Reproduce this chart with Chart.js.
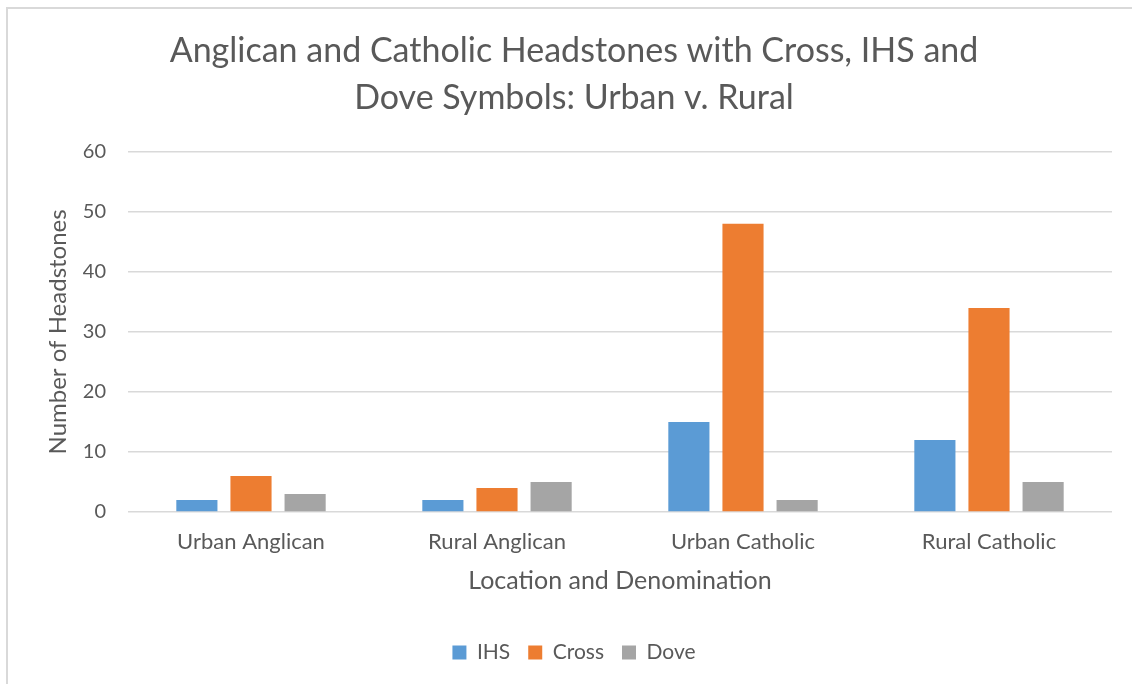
<!DOCTYPE html>
<html>
<head>
<meta charset="utf-8">
<script src="https://cdn.jsdelivr.net/npm/chart.js@4/dist/chart.umd.min.js"></script>
<style>
  html, body { margin: 0; padding: 0; background: #fff; }
  #wrap { position: relative; width: 1132px; height: 684px; }
  #frame { position: absolute; left: 6px; top: 7px; right: -4px; bottom: -4px;
           border-left: 2px solid #d9d9d9; border-top: 2px solid #d9d9d9; pointer-events: none; }
  canvas { position: absolute; left: 0; top: 0; }
</style>
</head>
<body>
<div id="wrap">
  <canvas id="headstones" width="1132" height="684"></canvas>
  <div id="frame"></div>
</div>
<script>
const categories = ["Urban Anglican", "Rural Anglican", "Urban Catholic", "Rural Catholic"];
const ihs = [2, 2, 15, 12];
const cross = [6, 4, 48, 34];
const dove = [3, 5, 2, 5];
const yTicks = [0, 10, 20, 30, 40, 50, 60];

const FONT = "Lato, Carlito, Calibri, sans-serif";
const TEXT = "#595959";

Chart.defaults.font.family = FONT;
Chart.defaults.color = TEXT;

new Chart(document.getElementById("headstones"), {
  type: "bar",
  data: {
    labels: categories,
    datasets: [
      { label: "IHS", data: ihs, backgroundColor: "#5b9bd5" },
      { label: "Cross", data: cross, backgroundColor: "#ed7d31" },
      { label: "Dove", data: dove, backgroundColor: "#a5a5a5" }
    ]
  },
  options: {
    responsive: false,
    animation: false,
    datasets: { bar: { categoryPercentage: 0.66, barPercentage: 0.76 } },
    layout: { padding: { left: 36, right: 20, top: 28, bottom: 11 } },
    plugins: {
      title: {
        display: true,
        text: ["Anglican and Catholic Headstones with Cross, IHS and", "Dove Symbols: Urban v. Rural"],
        font: { size: 34, weight: "normal", lineHeight: 1.38 },
        color: TEXT,
        padding: { top: 0, bottom: 30 }
      },
      legend: {
        position: "bottom",
        labels: { boxWidth: 14, boxHeight: 14, font: { size: 21 }, padding: 18, color: TEXT }
      },
      tooltip: { enabled: false }
    },
    scales: {
      x: {
        grid: { display: false },
        border: { display: false },
        ticks: { font: { size: 22 }, color: TEXT, padding: 9 },
        title: { display: true, text: "Location and Denomination", font: { size: 25 }, color: TEXT, padding: { top: 0, bottom: 28 } },
        afterFit: s => { s.height = 112; }
      },
      y: {
        min: 0,
        max: 60,
        afterBuildTicks: s => { s.ticks = yTicks.map(v => ({ value: v })); },
        grid: { color: "#d9d9d9", lineWidth: 1.5, drawTicks: false },
        border: { display: false },
        ticks: { font: { size: 20 }, color: TEXT, padding: 22 },
        title: { display: true, text: "Number of Headstones", font: { size: 24 }, color: TEXT, padding: { top: 8, bottom: 0 } },
        afterFit: s => { s.width = 92; }
      }
    }
  }
});
</script>
</body>
</html>
